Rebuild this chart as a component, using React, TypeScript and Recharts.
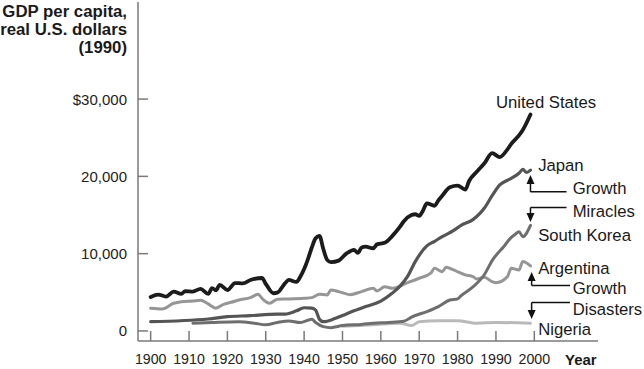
import React from 'react';
import { LineChart, Line, XAxis, YAxis, ReferenceLine, ReferenceDot } from 'recharts';

// GDP per capita, real 1990 U.S. dollars
const usYears = [1900, 1902, 1904, 1906, 1908, 1909, 1911, 1913, 1915, 1916, 1917, 1918, 1920, 1922, 1924, 1926, 1929, 1930, 1932, 1933, 1935, 1936, 1938, 1939, 1940, 1941, 1942, 1943, 1944, 1945, 1946, 1947, 1949, 1951, 1953, 1954, 1955, 1956, 1958, 1959, 1961, 1963, 1965, 1966, 1968, 1969, 1970, 1971, 1972, 1974, 1975, 1976, 1978, 1980, 1982, 1983, 1985, 1987, 1989, 1991, 1993, 1994, 1996, 1997, 1999];
const usGdp = [4400, 4700, 4450, 5100, 4800, 5150, 5100, 5450, 4800, 5550, 5250, 5950, 5300, 6200, 6150, 6600, 6850, 6100, 4880, 4950, 6150, 6600, 6350, 7000, 8000, 9300, 10800, 12000, 12300, 10600, 9200, 8900, 9100, 10000, 10500, 10100, 10800, 10900, 10700, 11200, 11400, 12300, 13500, 14200, 15000, 15100, 14900, 15600, 16500, 16200, 16900, 17500, 18600, 18800, 18300, 19400, 20600, 21700, 23000, 22500, 23500, 24200, 25300, 26000, 28000];

const japanYears = [1900, 1915, 1920, 1926, 1931, 1935, 1938, 1940, 1942, 1943, 1944, 1945, 1948, 1950, 1953, 1956, 1960, 1963, 1965, 1967, 1969, 1972, 1974, 1976, 1979, 1981, 1984, 1986, 1987, 1989, 1991, 1993, 1994, 1996, 1997, 1998, 1999];
const japanGdp = [1200, 1550, 1850, 1980, 2150, 2180, 2600, 3000, 2950, 2700, 1500, 1200, 1600, 2000, 2600, 3150, 3850, 4900, 5800, 7100, 9000, 11000, 11600, 12200, 13000, 13700, 14400, 15300, 15900, 17500, 18900, 19500, 19750, 20400, 20900, 20500, 20800];

const koreaYears = [1911, 1916, 1923, 1927, 1930, 1933, 1936, 1939, 1942, 1943, 1945, 1947, 1950, 1955, 1958, 1962, 1966, 1968, 1972, 1975, 1978, 1980, 1981, 1984, 1987, 1989, 1992, 1994, 1995, 1996, 1997, 1999];
const koreaGdp = [1000, 1100, 1200, 1000, 800, 1100, 1300, 1080, 1500, 1100, 560, 430, 700, 850, 1000, 1100, 1250, 1800, 2500, 3150, 4000, 4150, 4600, 5700, 7300, 9100, 10900, 12100, 12500, 12850, 12200, 13650];

const argentinaYears = [1900, 1903, 1906, 1908, 1911, 1913, 1915, 1917, 1919, 1921, 1923, 1926, 1928, 1929, 1931, 1933, 1936, 1940, 1942, 1944, 1946, 1947, 1949, 1952, 1955, 1958, 1959, 1961, 1963, 1967, 1970, 1973, 1974, 1976, 1977, 1979, 1980, 1982, 1984, 1985, 1987, 1989, 1990, 1993, 1994, 1996, 1997, 1999];
const argentinaGdp = [2940, 2850, 3580, 3790, 3880, 3970, 3500, 2950, 3450, 3710, 4010, 4310, 4750, 4230, 3580, 4100, 4140, 4230, 4310, 4750, 4660, 5300, 5090, 4700, 5090, 5520, 5180, 5730, 5520, 6250, 6820, 7470, 8100, 7670, 8240, 7890, 7670, 7250, 7030, 6730, 6940, 6380, 6250, 7030, 8100, 7890, 8970, 8410];

const nigeriaYears = [1950, 1958, 1965, 1968, 1970, 1975, 1980, 1985, 1990, 1999];
const nigeriaGdp = [600, 800, 1000, 700, 1200, 1330, 1330, 1000, 1100, 1000];

const yTicks = [0, 10000, 20000, 30000];
const yTickLabels = ['0', '10,000', '20,000', '$30,000'];
const xTicks = [1900, 1910, 1920, 1930, 1940, 1950, 1960, 1970, 1980, 1990, 2000];

const toPoints = (years: number[], values: number[]) =>
  years.map((year, i) => ({ year, gdp: values[i] }));

const series = [
  { name: 'Nigeria', data: toPoints(nigeriaYears, nigeriaGdp), color: '#b9b9b9', width: 3 },
  { name: 'Argentina', data: toPoints(argentinaYears, argentinaGdp), color: '#969696', width: 3 },
  { name: 'South Korea', data: toPoints(koreaYears, koreaGdp), color: '#6e6e6e', width: 3 },
  { name: 'Japan', data: toPoints(japanYears, japanGdp), color: '#555555', width: 3.2 },
  { name: 'United States', data: toPoints(usYears, usGdp), color: '#1c1c1c', width: 3.8 },
];

// annotation texts, anchored in data coordinates
const notes = [
  { text: 'United States', x: 1990, y: 29560 },
  { text: 'Japan', x: 2001, y: 21350 },
  { text: 'Growth', x: 2010, y: 18440 },
  { text: 'Miracles', x: 2010, y: 15460 },
  { text: 'South Korea', x: 2001, y: 12350 },
  { text: 'Argentina', x: 2001, y: 8020 },
  { text: 'Growth', x: 2010, y: 5500 },
  { text: 'Disasters', x: 2010, y: 2720 },
  { text: 'Nigeria', x: 2001, y: 130 },
];

const brackets = [
  [{ x: 1999, y: 19400 }, { x: 1999, y: 18000 }, { x: 2008.4, y: 18000 }],
  [{ x: 2008.4, y: 15980 }, { x: 1999, y: 15980 }, { x: 1999, y: 15000 }],
  [{ x: 1999.3, y: 6900 }, { x: 1999.3, y: 5890 }, { x: 2009.3, y: 5890 }],
  [{ x: 2009.3, y: 3690 }, { x: 1999.3, y: 3690 }, { x: 1999.3, y: 2500 }],
];

const arrowTips = [
  { x: 1999, y: 20180, dir: 'up' },
  { x: 1999, y: 14100, dir: 'down' },
  { x: 1999.3, y: 7630, dir: 'up' },
  { x: 1999.3, y: 1550, dir: 'down' },
];

const FONT = 'Arial, "Liberation Sans", Helvetica, sans-serif';
const PLOT_LEFT = 138;
const PLOT_BOTTOM = 341;
const AXIS_COLOR = '#7a7a7a';

const YTick = (props: any) => {
  const { y, payload } = props;
  const idx = yTicks.indexOf(payload.value);
  return (
    <g>
      <line x1={PLOT_LEFT} x2={PLOT_LEFT + 10} y1={y} y2={y} stroke={AXIS_COLOR} strokeWidth={1.5} />
      <text x={127} y={y} textAnchor="end" dominantBaseline="central" fontSize={15} fill="#222" fontFamily={FONT}>
        {yTickLabels[idx]}
      </text>
    </g>
  );
};

const XTick = (props: any) => {
  const { x, payload } = props;
  return (
    <g>
      <line x1={x} x2={x} y1={PLOT_BOTTOM} y2={PLOT_BOTTOM - 10} stroke={AXIS_COLOR} strokeWidth={1.5} />
      <text x={x} y={359} textAnchor="middle" dominantBaseline="central" fontSize={14.2} fill="#222" fontFamily={FONT}>
        {payload.value}
      </text>
    </g>
  );
};

const TitleLabel = () => (
  <g fontFamily={FONT} fontWeight="bold" fontSize={16.8} fill="#1a1a1a" textAnchor="end">
    <text x={127} y={11} dominantBaseline="central">GDP per capita,</text>
    <text x={127} y={29} dominantBaseline="central">real U.S. dollars</text>
    <text x={127} y={47} dominantBaseline="central">(1990)</text>
  </g>
);

const YearLabel = () => (
  <text x={565} y={359} dominantBaseline="central" fontFamily={FONT} fontWeight="bold" fontSize={15} fill="#1a1a1a">
    Year
  </text>
);

const App = () => {
  return (
    <div style={{ position: 'absolute', left: 0, top: 0, background: '#fff' }}>
      <LineChart width={644} height={369} margin={{ top: 2, right: 46, bottom: 0, left: 0 }}>
        <XAxis
          type="number"
          dataKey="year"
          domain={[1896.7, 2016.6]}
          allowDataOverflow
          ticks={xTicks}
          interval={0}
          height={28}
          tickLine={false}
          axisLine={{ stroke: AXIS_COLOR, strokeWidth: 1.5 }}
          tick={<XTick />}
          label={<YearLabel />}
        />
        <YAxis
          type="number"
          domain={[-1300, 42560]}
          allowDataOverflow
          ticks={yTicks}
          interval={0}
          width={138}
          tickLine={false}
          axisLine={{ stroke: AXIS_COLOR, strokeWidth: 1.5 }}
          tick={<YTick />}
          label={<TitleLabel />}
        />
        {series.map((s) => (
          <Line
            key={s.name}
            data={s.data}
            dataKey="gdp"
            name={s.name}
            type="monotone"
            stroke={s.color}
            strokeWidth={s.width}
            dot={false}
            activeDot={false}
            isAnimationActive={false}
            strokeLinejoin="round"
            strokeLinecap="round"
          />
        ))}
        {brackets.flatMap((b, i) =>
          b.slice(1).map((p, j) => (
            <ReferenceLine
              key={`b${i}-${j}`}
              segment={[b[j], p]}
              stroke="#111"
              strokeWidth={1.5}
              ifOverflow="visible"
            />
          ))
        )}
        {arrowTips.map((a, i) => (
          <ReferenceDot
            key={`a${i}`}
            x={a.x}
            y={a.y}
            r={0}
            ifOverflow="visible"
            shape={(p: any) => {
              const { cx, cy } = p;
              const d = a.dir === 'up' ? 1 : -1;
              return (
                <polygon
                  points={`${cx},${cy} ${cx - 4},${cy + d * 9} ${cx + 4},${cy + d * 9}`}
                  fill="#111"
                />
              );
            }}
          />
        ))}
        {notes.map((n, i) => (
          <ReferenceDot
            key={`n${i}`}
            x={n.x}
            y={n.y}
            r={0}
            ifOverflow="visible"
            shape={(p: any) => (
              <text
                x={p.cx}
                y={p.cy}
                dominantBaseline="central"
                fontFamily={FONT}
                fontSize={16.7}
                fill="#1a1a1a"
              >
                {n.text}
              </text>
            )}
          />
        ))}
      </LineChart>
    </div>
  );
};

export default App;
